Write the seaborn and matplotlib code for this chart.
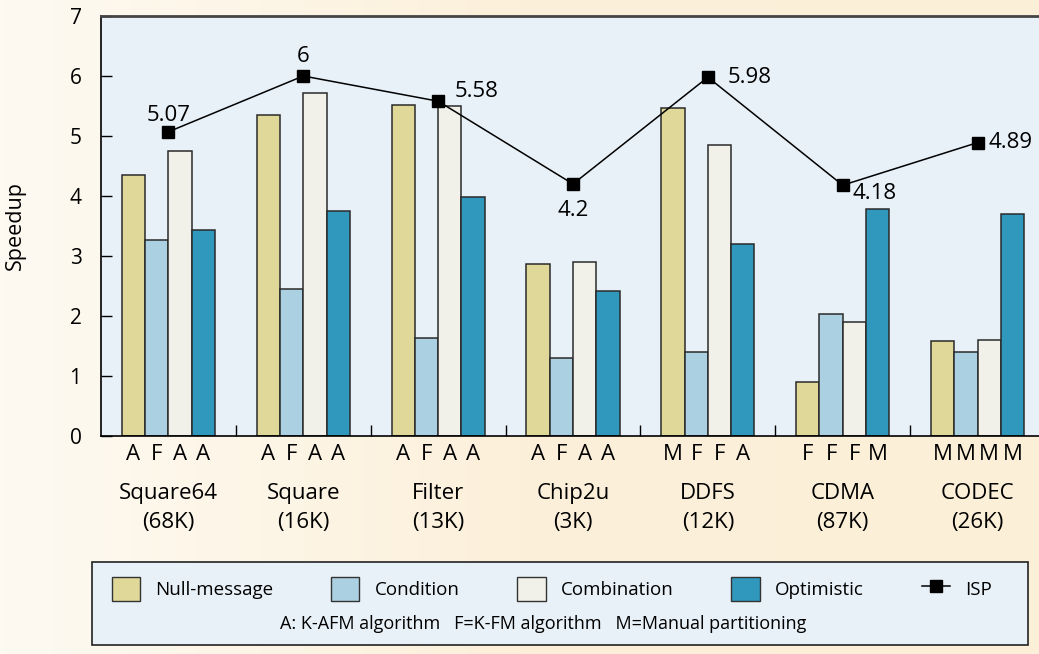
import numpy as np
import pandas as pd
import seaborn as sns
import matplotlib.pyplot as plt
from matplotlib.patches import Patch, Rectangle
from matplotlib.lines import Line2D
from matplotlib.colors import LinearSegmentedColormap

# Data
circuits = ["Square64\n(68K)", "Square\n(16K)", "Filter\n(13K)", "Chip2u\n(3K)",
            "DDFS\n(12K)", "CDMA\n(87K)", "CODEC\n(26K)"]
methods = ["Null-message", "Condition", "Combination", "Optimistic"]
null_message = [4.35, 5.35, 5.52, 2.87, 5.47, 0.90, 1.58]
condition = [3.27, 2.45, 1.63, 1.30, 1.40, 2.03, 1.40]
combination = [4.75, 5.72, 5.50, 2.90, 4.85, 1.90, 1.60]
optimistic = [3.43, 3.75, 3.98, 2.42, 3.20, 3.78, 3.70]
isp = [5.07, 6.00, 5.58, 4.20, 5.98, 4.18, 4.89]
partitioning = [["A", "F", "A", "A"], ["A", "F", "A", "A"], ["A", "F", "A", "A"],
                ["A", "F", "A", "A"], ["M", "F", "F", "A"], ["F", "F", "F", "M"],
                ["M", "M", "M", "M"]]
legend_note = "A: K-AFM algorithm   F=K-FM algorithm   M=Manual partitioning"

colors = ["#dfd899", "#abd0e2", "#f1f1e9", "#2f98bc"]
plot_bg = "#e8f1f8"

df = pd.DataFrame({
    "circuit": circuits * 4,
    "method": [m for m in methods for _ in circuits],
    "speedup": null_message + condition + combination + optimistic,
})

plt.rcParams['font.family'] = ['Open Sans', 'DejaVu Sans']
fig = plt.figure(figsize=(10.39, 6.54), dpi=100)

# Background with a light gradient
bg = fig.add_axes([0, 0, 1, 1], zorder=-5)
cmap = LinearSegmentedColormap.from_list("bg", ["#fefaf2", "#fcf0da", "#fcefd8"])
bg.imshow(np.linspace(0, 1, 256).reshape(1, -1), aspect="auto", cmap=cmap, extent=[0, 1, 0, 1])
bg.axis("off")

ax = fig.add_axes([101 / 1039, 218 / 654, 944 / 1039, 420 / 654])
ax.set_facecolor(plot_bg)

sns.barplot(data=df, x="circuit", y="speedup", hue="method", order=circuits,
            hue_order=methods, palette=colors, width=0.69, edgecolor="#2a2a2a",
            linewidth=1.1, saturation=1, legend=False, ax=ax)

# ISP line
ax.plot(np.arange(len(circuits)), isp, color="black", lw=1.1, marker="s",
        markersize=9, zorder=5)
label_offsets = [((0, 12), "center"), ((0, 14), "center"), ((12, 7), "left"),
                 ((0, -19), "center"), ((14, 0), "left"), ((7, -6), "left"),
                 ((8, 0), "left")]
for i, v in enumerate(isp):
    (dx, dy), ha = label_offsets[i]
    ax.annotate(f"{v:g}", (i, v), xytext=(dx, dy), textcoords="offset points",
                ha=ha, va="center", fontsize=16)

# Partitioning letters under each bar
for j, cont in enumerate(ax.containers):
    for bar in cont:
        xc = bar.get_x() + bar.get_width() / 2
        i = int(round(xc))
        ax.annotate(partitioning[i][j], (xc, 0), xytext=(0, -13),
                    textcoords="offset points", ha="center", va="center",
                    fontsize=16, annotation_clip=False)

ax.set_xlim(-0.5, 6.5)
ax.set_ylim(0, 7)
ax.set_yticks(range(8))
ax.set_xticks(range(len(circuits)))
ax.set_xticklabels(circuits, fontsize=16, linespacing=1.5)
ax.set_xticks(np.arange(0.5, 6.5, 1), minor=True)
ax.tick_params(axis="x", which="major", length=0, pad=34)
ax.tick_params(axis="x", which="minor", direction="in", length=8, width=1, color="black")
ax.tick_params(axis="y", direction="in", length=8, width=1, labelsize=15, pad=14)
ax.set_xlabel("")
ax.set_ylabel("Speedup", fontsize=15.5)
ax.yaxis.set_label_coords(-0.079, 0.5)

for s in ["left", "bottom"]:
    ax.spines[s].set_color("black")
    ax.spines[s].set_linewidth(1.2)
ax.spines["top"].set_color("#444444")
ax.spines["top"].set_linewidth(2)
ax.spines["right"].set_visible(False)

# Legend box
fig.patches.append(Rectangle((92 / 1039, 9 / 654), 936 / 1039, 83 / 654,
                             transform=fig.transFigure, facecolor=plot_bg,
                             edgecolor="#222222", lw=1.2, zorder=1))
handles = [Patch(facecolor=c, edgecolor="#333333", lw=1) for c in colors]
handles.append(Line2D([], [], color="black", lw=1.1, marker="s", markersize=8))
fig.legend(handles, methods + ["ISP"], loc="center", bbox_to_anchor=(0.531, 0.1),
           ncol=5, frameon=False, fontsize=13.5, handlelength=1.5, handleheight=1.6,
           columnspacing=3.1, handletextpad=0.8)
fig.text(0.5226, 0.046, legend_note, ha="center", va="center", fontsize=13)

plt.savefig("out.png", dpi=100)
